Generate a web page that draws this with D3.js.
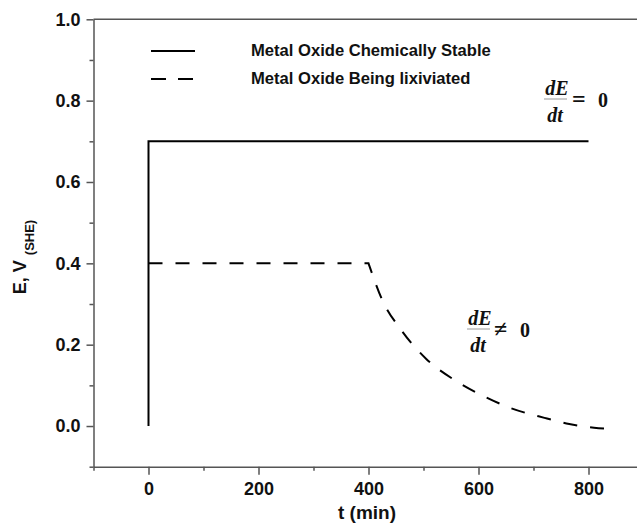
<!DOCTYPE html>
<html>
<head>
<meta charset="utf-8">
<script src="https://cdn.jsdelivr.net/npm/d3@7"></script>
<style>
  body { margin: 0; background: #fff; }
  svg { display: block; font-family: "Liberation Sans", Arial, sans-serif; }
</style>
</head>
<body>
<svg id="chart" width="637" height="528"></svg>
<script>
// data
var stableT = [0, 0, 800];
var stableE = [0, 0.7, 0.7];
var leachT = [0, 400, 425, 460, 505, 560, 610, 655, 720, 765, 810, 840];
var leachE = [0.4, 0.4, 0.31, 0.235, 0.165, 0.11, 0.073, 0.046, 0.02, 0.005, -0.004, -0.007];
var seriesNames = ["Metal Oxide Chemically Stable", "Metal Oxide Being lixiviated"];
var xMajor = [0, 200, 400, 600, 800];
var xMinor = [-100, 100, 300, 500, 700];
var yMajor = [0, 0.2, 0.4, 0.6, 0.8, 1.0];
var yMinor = [-0.1, 0.1, 0.3, 0.5, 0.7, 0.9];

var svg = d3.select("#chart");
var axisColor = "#555";

var x = d3.scaleLinear().domain([-100, 900]).range([93.5, 643.5]);
var y = d3.scaleLinear().domain([-0.1, 1.0]).range([466.7, 19.3]);

// top frame line
svg.append("line")
  .attr("x1", x(-100)).attr("x2", 637)
  .attr("y1", y(1.0)).attr("y2", y(1.0))
  .attr("stroke", axisColor).attr("stroke-width", 1.5);

function styleAxis(g) {
  g.selectAll("path, line").attr("stroke", axisColor).attr("stroke-width", 1.5);
  g.selectAll("text").attr("fill", "#111").attr("font-weight", "bold").attr("font-size", 18);
}

// x axis
svg.append("g")
  .attr("transform", "translate(0," + y(-0.1) + ")")
  .call(d3.axisBottom(x).tickValues(xMinor).tickSize(4).tickSizeOuter(0).tickFormat(""))
  .call(styleAxis);
svg.append("g")
  .attr("transform", "translate(0," + y(-0.1) + ")")
  .call(d3.axisBottom(x).tickValues(xMajor).tickSize(8).tickSizeOuter(0).tickPadding(8).tickFormat(d3.format("d")))
  .call(styleAxis)
  .call(g => g.select(".domain").remove());

// y axis
svg.append("g")
  .attr("transform", "translate(" + x(-100) + ",0)")
  .call(d3.axisLeft(y).tickValues(yMinor).tickSize(4).tickSizeOuter(0).tickFormat(""))
  .call(styleAxis);
svg.append("g")
  .attr("transform", "translate(" + x(-100) + ",0)")
  .call(d3.axisLeft(y).tickValues(yMajor).tickSize(7).tickSizeOuter(0).tickPadding(6).tickFormat(d3.format(".1f")))
  .call(styleAxis)
  .call(g => g.select(".domain").remove());

// axis titles
svg.append("text")
  .attr("x", 367).attr("y", 519)
  .attr("text-anchor", "middle")
  .attr("font-weight", "bold").attr("font-size", 19).attr("fill", "#111")
  .text("t (min)");

var yt = svg.append("text")
  .attr("transform", "translate(26,257) rotate(-90)")
  .attr("text-anchor", "middle")
  .attr("font-weight", "bold").attr("fill", "#111");
yt.append("tspan").attr("font-size", 18).text("E, V ");
yt.append("tspan").attr("font-size", 13).attr("dy", 8).text("(SHE)");

// series
var stable = stableT.map((t, i) => [t, stableE[i]]);
var leach = leachT.map((t, i) => [t, leachE[i]]);

var straight = d3.line().x(d => x(d[0])).y(d => y(d[1]));
var smooth = d3.line().x(d => x(d[0])).y(d => y(d[1])).curve(d3.curveMonotoneX);

svg.append("path")
  .attr("d", straight(stable))
  .attr("fill", "none").attr("stroke", "#000").attr("stroke-width", 2);

// flat part is straight, decay part is smooth; joined in one path so dashes run on
var flatPart = straight(leach.slice(0, 2));
var decayPart = smooth(leach.slice(1)).replace(/^M/, "L");
svg.append("path")
  .attr("d", flatPart + decayPart)
  .attr("fill", "none").attr("stroke", "#000").attr("stroke-width", 2)
  .attr("stroke-dasharray", "14,13");

// legend
var legend = svg.append("g");
var legendY = [51, 79];
seriesNames.forEach(function(name, i) {
  legend.append("line")
    .attr("x1", 151).attr("x2", 195)
    .attr("y1", legendY[i]).attr("y2", legendY[i])
    .attr("stroke", "#000").attr("stroke-width", 2)
    .attr("stroke-dasharray", i === 1 ? "15,12" : null);
  legend.append("text")
    .attr("x", 251).attr("y", legendY[i] + 5)
    .attr("font-weight", "bold").attr("font-size", 16.6).attr("fill", "#111")
    .text(name);
});

// dE/dt annotations
function fraction(cx, base, sign, signX, zeroX) {
  var g = svg.append("g")
    .attr("font-family", "'Liberation Serif', 'Times New Roman', serif")
    .attr("font-weight", "bold").attr("fill", "#111").attr("font-size", 20);
  g.append("text").attr("x", cx).attr("y", base - 4)
    .attr("font-style", "italic").attr("text-anchor", "middle").text("dE");
  g.append("line").attr("x1", cx - 13).attr("x2", cx + 10)
    .attr("y1", base).attr("y2", base)
    .attr("stroke", "#999").attr("stroke-width", 1);
  g.append("text").attr("x", cx - 2).attr("y", base + 23)
    .attr("font-style", "italic").attr("text-anchor", "middle").text("dt");
  g.append("text").attr("x", signX).attr("y", base + 8).attr("font-size", 24).text(sign);
  g.append("text").attr("x", zeroX).attr("y", base + 8).text("0");
}
fraction(557, 99, "=", 572, 598);
fraction(480, 329, "\u2260", 494, 520);
</script>
</body>
</html>
